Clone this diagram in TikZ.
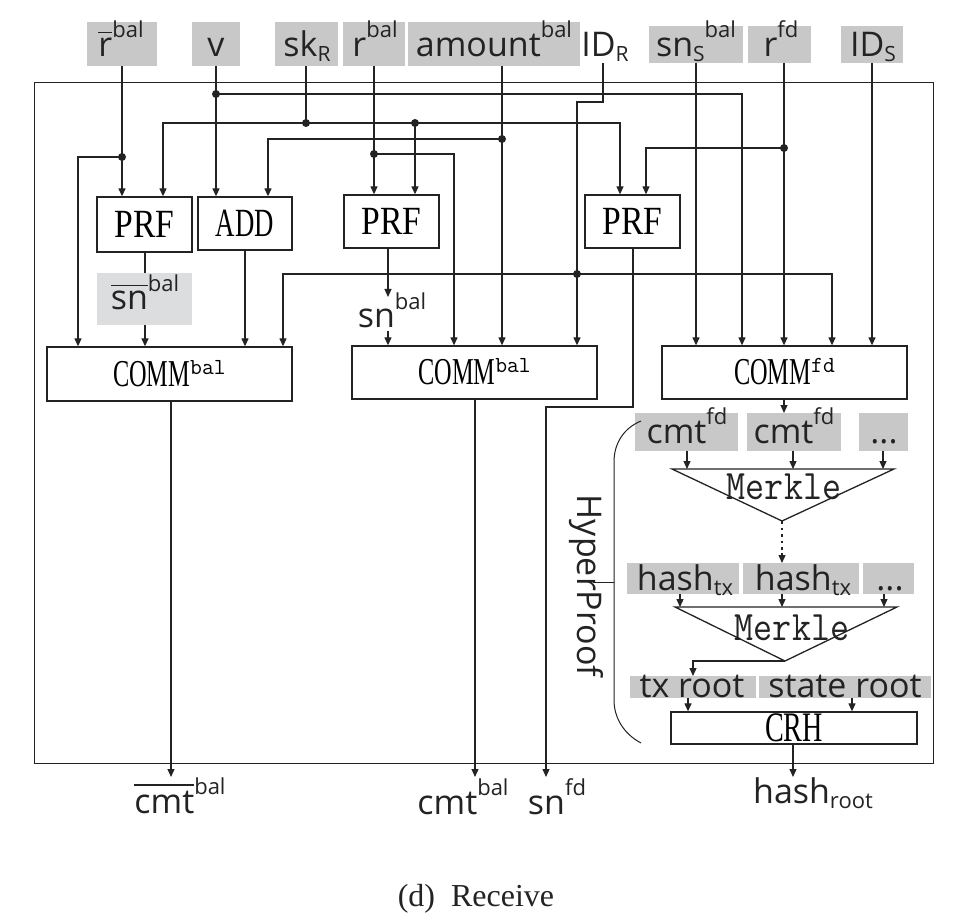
\documentclass[tikz,border=0pt]{standalone}
\usepackage{fontspec}
\usepackage{graphicx}
\setmainfont{Liberation Serif}
\newfontfamily\labf{Open Sans}
\newcommand\monof{\ttfamily}
\usetikzlibrary{arrows.meta,calc}
\definecolor{boxgray}{RGB}{200,200,201}
\definecolor{boxlight}{RGB}{220,221,223}
\definecolor{ink}{RGB}{35,35,35}
\newcommand\Lab{\labf\fontsize{34}{40}\selectfont}
\newcommand\sups[1]{\raisebox{19pt}{\fontsize{22}{22}\selectfont #1}}
\newcommand\subs[1]{\raisebox{-5pt}{\fontsize{21}{21}\selectfont #1}}
\newcommand\subr[1]{\raisebox{-5pt}{\fontsize{22}{22}\selectfont #1}}
\newcommand\ovl[1]{\vbox{\hrule height 1.3pt\kern 5pt\hbox{#1}}}
\newcommand\cnd[2]{\scalebox{#1}[1]{#2}}
\newcommand\commsup[1]{\smash{\raisebox{12pt}{\monof\fontsize{23}{23}\selectfont #1}}}
\newcommand\COMM[1]{\cnd{0.64}{\fontsize{38}{40}\selectfont COMM}\commsup{#1}}
\newcommand\Merk{\cnd{0.88}{\monof\fontsize{42}{42}\selectfont Merkle}}
\tikzset{
  wire/.style={line width=1.2pt, draw=ink},
  arr/.style={wire, -{Triangle[length=8pt,width=7pt]}},
  dotn/.style={circle, fill=ink, inner sep=0pt, minimum size=8pt},
  blk/.style={draw=ink, line width=1.3pt, inner sep=0pt},
  gbox/.style={fill=boxgray, inner sep=0pt, anchor=north west},
  lbl/.style={font=\Lab, inner sep=0pt, anchor=base, text=ink},
}
\begin{document}
\begin{tikzpicture}[x=1pt,y=-1pt]
\useasboundingbox[fill=white] (0,0) rectangle (959,917);

% outer frame
\node[blk, minimum width=899pt, minimum height=681pt, anchor=north west] (outer) at (34,82) {};

% input boxes
\node[gbox, minimum width=70pt, minimum height=44pt] (irb) at (87,22) {};
\node[gbox, minimum width=48pt, minimum height=44pt] (iv) at (192,22) {};
\node[gbox, minimum width=63pt, minimum height=44pt] (isk) at (275,22) {};
\node[gbox, minimum width=62pt, minimum height=44pt] (irbal) at (343,22) {};
\node[gbox, minimum width=172pt, minimum height=44pt] (iamt) at (408,22) {};
\node[gbox, minimum width=94pt, minimum height=37pt] (isnS) at (649,26) {};
\node[gbox, minimum width=63pt, minimum height=37pt] (irfd) at (748,26) {};
\node[gbox, minimum width=62pt, minimum height=37pt] (iIDS) at (841,26) {};
\coordinate (iIDR) at (603,63);

\node[lbl] (trb) at (121,57) {\ovl{r}\sups{bal}};
\node[lbl] (tv) at (216,57) {v};
\node[lbl] (tsk) at (307,57) {sk\subs{R}};
\node[lbl] (trbal) at (375,57) {r\sups{bal}};
\node[lbl] (tamt) at (494,57) {amount\sups{bal}};
\node[lbl] (tIDR) at (605,57) {ID\subs{R}};
\node[lbl] (tsnS) at (696,57) {sn\subs{S}\sups{bal}};
\node[lbl] (trfd) at (781,57) {r\sups{fd}};
\node[lbl] (tIDS) at (873,57) {ID\subs{S}};

% blocks
\node[blk, minimum width=95pt, minimum height=55pt] (PRF1) at (144.5,224.5) {\cnd{0.84}{\fontsize{40}{44}\selectfont PRF}};
\node[blk, minimum width=94pt, minimum height=53pt] (ADD) at (245,223.5) {\cnd{0.67}{\fontsize{40}{44}\selectfont ADD}};
\node[blk, minimum width=95pt, minimum height=53pt] (PRF2) at (391.5,221.5) {\cnd{0.84}{\fontsize{40}{44}\selectfont PRF}};
\node[blk, minimum width=95pt, minimum height=53pt] (PRF3) at (632.5,221.5) {\cnd{0.84}{\fontsize{40}{44}\selectfont PRF}};

\node[gbox, fill=boxlight, minimum width=95pt, minimum height=52pt] (snb) at (97,273) {};
\node[lbl] (tsnb) at (145,310) {\ovl{sn}\raisebox{-1pt}{\sups{bal}}};
\node[lbl] (tsn2) at (392,328) {sn\raisebox{-1pt}{\sups{bal}}};
\coordinate (s2a) at (388,297);
\coordinate (s2b) at (388,331);

\node[blk, minimum width=245pt, minimum height=54pt] (COMM1) at (169.5,374) {\COMM{bal}};
\node[blk, minimum width=245pt, minimum height=53pt] (COMM2) at (474.5,372.5) {\COMM{bal}};
\node[blk, minimum width=245pt, minimum height=53pt] (COMMfd) at (784.5,372.5) {\COMM{fd}};

% merkle part
\node[gbox, minimum width=103pt, minimum height=38pt] (cf1) at (635,413) {};
\node[gbox, minimum width=94pt, minimum height=38pt] (cf2) at (747,413) {};
\node[gbox, minimum width=49pt, minimum height=38pt] (cf3) at (859,413) {};
\node[lbl] (tcf1) at (687,443) {cmt\sups{fd}};
\node[lbl] (tcf2) at (794,443) {cmt\sups{fd}};
\node[lbl] (tcf3) at (884,443) {...};

\draw[blk] (672,469) coordinate (t1l) -- (894,469) coordinate (t1r) -- (782,521) coordinate (t1b) -- cycle;
\node[anchor=base, inner sep=0pt, text=ink] (mk1) at (784,499) {\Merk};

\node[gbox, minimum width=112pt, minimum height=31pt] (ht1) at (627,563) {};
\node[gbox, minimum width=116pt, minimum height=31pt] (ht2) at (743,563) {};
\node[gbox, minimum width=51pt, minimum height=31pt] (ht3) at (863,563) {};
\node[lbl] (tht1) at (685,590) {hash\subr{tx}};
\node[lbl] (tht2) at (803,590) {hash\subr{tx}};
\node[lbl] (tht3) at (890,590) {...};

\draw[blk] (675,607) coordinate (t2l) -- (897,607) coordinate (t2r) -- (785,661) coordinate (t2b) -- cycle;
\node[anchor=base, inner sep=0pt, text=ink] (mk2) at (792,640) {\Merk};

\node[gbox, minimum width=126pt, minimum height=22pt] (txr) at (630,676) {};
\node[gbox, minimum width=172pt, minimum height=22pt] (str) at (759,676) {};
\node[lbl] (ttxr) at (692,697) {tx root};
\node[lbl] (tstr) at (845,697) {state root};

\node[blk, minimum width=246pt, minimum height=32pt] (CRH) at (794,728) {\cnd{0.67}{\fontsize{42}{44}\selectfont CRH}};

% HyperProof brace
\draw[wire, line width=1pt] (641,421) .. controls (624,428) and (614,443) .. (614,462) -- (614,700) .. controls (614,718) and (624,734) .. (641,743);
\node[font=\Lab, text=ink, inner sep=0pt, rotate=-90] (hp) at (586,586) {HyperProof};
\draw[wire, line width=1pt] (614,582) -- (593,582);

% outputs
\coordinate (oA) at (171,777);
\coordinate (oB) at (475,777);
\coordinate (oC) at (546,777);
\coordinate (oD) at (793,777);
\node[lbl] (lA) at (180,813) {\ovl{cmt}\sups{bal}};
\node[lbl] (lB) at (463,814) {cmt\sups{bal}};
\node[lbl] (lC) at (557,814) {sn\sups{fd}};
\node[lbl] (lD) at (813,803) {hash\subr{root}};

\node[anchor=base, inner sep=0pt, text=ink, font=\fontsize{32}{36}\selectfont] (cap) at (476,906) {(d)\ \ Receive};

% dots
\node[dotn] (d1) at (122,157) {};
\node[dotn] (d2) at (216,94) {};
\node[dotn] (d3) at (306,123) {};
\node[dotn] (d4) at (415,123) {};
\node[dotn] (d5) at (374,154) {};
\node[dotn] (d6) at (502,139) {};
\node[dotn] (d7) at (577,274) {};
\node[dotn] (d8) at (784,148) {};

% wires from inputs
\draw[arr] (122,0 |- irb.south) -- (122,0 |- PRF1.north);
\draw[arr] (d1.center) -| (78,0 |- COMM1.north);
\draw[arr] (216,0 |- iv.south) -- (216,0 |- ADD.north);
\draw[arr] (d2.center) -| (742,0 |- COMMfd.north);
\draw[wire] (306,0 |- isk.south) -- (d3.center);
\draw[arr] (d3.center) -| (163,0 |- PRF1.north);
\draw[arr] (d3.center) -| (620,0 |- PRF3.north);
\draw[arr] (d4.center) -- (415,0 |- PRF2.north);
\draw[arr] (374,0 |- irbal.south) -- (374,0 |- PRF2.north);
\draw[arr] (d5.center) -| (454,0 |- COMM2.north);
\draw[arr] (502,0 |- iamt.south) -- (502,0 |- COMM2.north);
\draw[arr] (d6.center) -| (268,0 |- ADD.north);
\draw[arr] (iIDR) -- (603,102) -| (577,0 |- COMM2.north);
\draw[arr] (d7.center) -| (283,0 |- COMM1.north);
\draw[arr] (d7.center) -| (832,0 |- COMMfd.north);
\draw[arr] (696,0 |- isnS.south) -- (696,0 |- COMMfd.north);
\draw[arr] (784,0 |- irfd.south) -- (784,0 |- COMMfd.north);
\draw[arr] (d8.center) -| (646,0 |- PRF3.north);
\draw[arr] (872,0 |- iIDS.south) -- (872,0 |- COMMfd.north);

% internal wires
\draw[wire] (145,0 |- PRF1.south) -- (145,0 |- snb.north);
\draw[arr] (145,0 |- snb.south) -- (145,0 |- COMM1.north);
\draw[arr] (245,0 |- ADD.south) -- (245,0 |- COMM1.north);
\draw[arr] (388,0 |- PRF2.south) -- (s2a);
\draw[arr] (s2b) -- (388,0 |- COMM2.north);
\draw[arr] (633,0 |- PRF3.south) |- (546,407) -- (oC);
\draw[arr] (171,0 |- COMM1.south) -- (oA);
\draw[arr] (475,0 |- COMM2.south) -- (oB);
\draw[arr] (784,0 |- COMMfd.south) -- (784,0 |- cf2.north);
\draw[arr] (687,0 |- cf1.south) -- (687,0 |- t1l);
\draw[arr] (793,0 |- cf2.south) -- (793,0 |- t1l);
\draw[arr] (883,0 |- cf3.south) -- (883,0 |- t1l);
\draw[wire, line width=2pt, dash pattern=on 2.5pt off 4pt] (t1b) -- (782,553);
\draw[arr] (782,553) -- (782,0 |- ht2.north);
\draw[arr] (680,0 |- ht1.south) -- (680,0 |- t2l);
\draw[arr] (782,0 |- ht2.south) -- (782,0 |- t2l);
\draw[arr] (884,0 |- ht3.south) -- (884,0 |- t2l);
\draw[arr] (t2b) -- (693,661) -- (693,0 |- txr.north);
\draw[arr] (688,0 |- txr.south) -- (688,0 |- CRH.north);
\draw[arr] (852,0 |- str.south) -- (852,0 |- CRH.north);
\draw[arr] (793,0 |- CRH.south) -- (oD);
\end{tikzpicture}
\end{document}
